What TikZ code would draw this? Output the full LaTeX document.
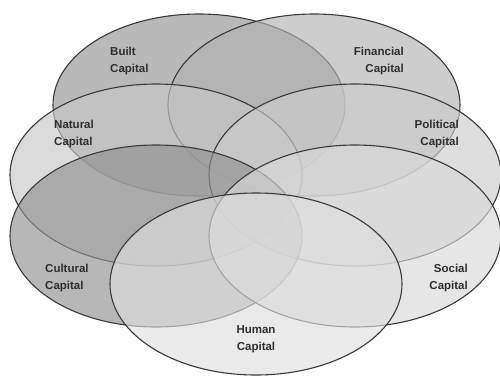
\documentclass[tikz,border=0pt]{standalone}
\usepackage{fontspec}
\setmainfont{Liberation Sans}
\usetikzlibrary{shapes.geometric}
\definecolor{edge}{HTML}{3A3A3A}
\definecolor{txt}{HTML}{2E2E2E}
\tikzset{
  capellipse/.style={ellipse, draw=edge, line width=1.1pt, fill opacity=0.65,
    minimum width=292pt, minimum height=182pt, inner sep=0pt},
  caplabel/.style={text=txt, font=\fontsize{11.5}{16.5}\selectfont\bfseries, inner sep=0pt}
}
\begin{document}
\begin{tikzpicture}[x=1pt,y=-1pt]
\useasboundingbox (0,0) rectangle (500,376);
\node[capellipse, fill={black!42}] (built) at (199,105) {};
\node[capellipse, fill={black!30}] (financial) at (314,105) {};
\node[capellipse, fill={black!22}] (natural) at (156,175) {};
\node[capellipse, fill={black!20}] (political) at (355,175) {};
\node[capellipse, fill={black!43}] (cultural) at (156,236) {};
\node[capellipse, fill={black!15}] (social) at (355,236) {};
\node[capellipse, fill={black!13}] (human) at (256,284) {};
\node[caplabel, align=left, anchor=west] (lbuilt) at (110,61) {Built\\Capital};
\node[caplabel, align=right, anchor=east] (lfinancial) at (404,61) {Financial\\Capital};
\node[caplabel, align=left, anchor=west] (lnatural) at (54,134) {Natural\\Capital};
\node[caplabel, align=right, anchor=east] (lpolitical) at (459,134) {Political\\Capital};
\node[caplabel, align=left, anchor=west] (lcultural) at (45,278) {Cultural\\Capital};
\node[caplabel, align=right, anchor=east] (lsocial) at (468,278) {Social\\Capital};
\node[caplabel, align=center] (lhuman) at (256,339) {Human\\Capital};
\end{tikzpicture}
\end{document}
